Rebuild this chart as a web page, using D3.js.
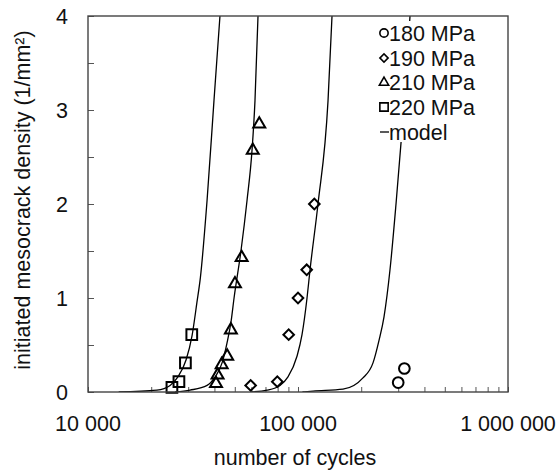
<!DOCTYPE html>
<html>
<head>
<meta charset="utf-8">
<script src="https://cdn.jsdelivr.net/npm/d3@7"></script>
<style>
body { margin: 0; background: #fff; }
text { font-family: "Liberation Sans", Arial, sans-serif; fill: #111; }
</style>
</head>
<body>
<svg id="chart" width="558" height="473"></svg>
<script>
// measured points, [cycles, density 1/mm2]
let pts180 = [[300000, 0.1], [321000, 0.25]]
let pts190 = [[59500, 0.07], [79700, 0.11], [90300, 0.61], [100000, 1.0], [110000, 1.3], [119600, 2.0]]
let pts210 = [[40700, 0.09], [41400, 0.18], [43300, 0.29], [46000, 0.38], [47900, 0.66], [50100, 1.15], [53900, 1.43], [60900, 2.57], [65400, 2.85]]
let pts220 = [[25100, 0.05], [27100, 0.11], [29100, 0.31], [31200, 0.61]]

// model curves
let model220 = [[14000, 0], [21300, 0.02], [24600, 0.07], [26800, 0.16], [29300, 0.34], [31300, 0.6], [33000, 0.95], [34300, 1.22], [36900, 2.04], [39800, 3.1], [42500, 4.0]]
let model210 = [[26000, 0], [30600, 0.02], [36900, 0.07], [40300, 0.16], [43500, 0.31], [45900, 0.52], [48000, 0.75], [49600, 1.0], [53500, 1.5], [57200, 2.04], [60400, 2.57], [62400, 3.1], [64500, 4.0]]
let model190 = [[59100, 0], [71200, 0.02], [82100, 0.07], [89600, 0.16], [98900, 0.38], [104500, 0.61], [110400, 1.0], [114100, 1.3], [124500, 2.0], [139000, 3.1], [145200, 4.0]]
let model180 = [[105000, 0], [118000, 0.01], [163800, 0.03], [203900, 0.15], [227600, 0.31], [243100, 0.55], [256800, 0.8], [274200, 1.3], [292900, 2.0], [309400, 2.65], [323200, 3.2], [341500, 4.0]]

let xTickVals = [10000, 100000, 1000000]
let xTickLabels = ["10 000", "100 000", "1 000 000"]
let yTickVals = [0, 1, 2, 3, 4]
let legendLabels = ["180 MPa", "190 MPa", "210 MPa", "220 MPa", "model"]

let fs = 21.5
let svg = d3.select("#chart")
let x = d3.scaleLog().domain([1e4, 1e6]).range([88, 508])
let y = d3.scaleLinear().domain([0, 4]).range([392, 16])

svg.append("rect").attr("width", 558).attr("height", 473).attr("fill", "#fff")

// ticks inside the frame
svg.append("g").attr("transform", "translate(0,392)")
    .call(d3.axisBottom(x).tickValues(x.ticks()).tickSize(-5).tickFormat(""))
svg.append("g").attr("transform", "translate(88,0)")
    .call(d3.axisLeft(y).ticks(8).tickSize(-6).tickFormat(""))
svg.selectAll(".domain").remove()
svg.selectAll(".tick line").attr("stroke", "#555").attr("stroke-width", 1)

// tick labels
svg.selectAll(".xlab").data(xTickVals).enter().append("text")
    .attr("class", "xlab")
    .attr("x", d => x(d))
    .attr("y", 431)
    .attr("text-anchor", "middle")
    .attr("font-size", fs)
    .text((d, i) => xTickLabels[i])
svg.selectAll(".ylab").data(yTickVals).enter().append("text")
    .attr("class", "ylab")
    .attr("x", 68)
    .attr("y", d => y(d) + 7.8)
    .attr("text-anchor", "end")
    .attr("font-size", fs)
    .text(d => d)

// axis titles
svg.append("text")
    .attr("x", 295).attr("y", 465)
    .attr("text-anchor", "middle")
    .attr("font-size", fs)
    .text("number of cycles")
svg.append("text")
    .attr("transform", "translate(30,200) rotate(-90)")
    .attr("text-anchor", "middle")
    .attr("font-size", fs)
    .text("initiated mesocrack density (1/mm²)")

// model lines
let line = d3.line().x(d => x(d[0])).y(d => y(d[1])).curve(d3.curveMonotoneX)
svg.append("clipPath").attr("id", "plotclip").append("rect")
    .attr("x", 88).attr("y", 16).attr("width", 420).attr("height", 376)
svg.selectAll(".model").data([model220, model210, model190, model180]).enter().append("path")
    .attr("class", "model")
    .attr("clip-path", "url(#plotclip)")
    .attr("d", line)
    .attr("fill", "none")
    .attr("stroke", "#000")
    .attr("stroke-width", 1.3)

// symbols
let shapes = {
    c180: { type: d3.symbolCircle, size: 90, rot: 0 },
    d190: { type: d3.symbolSquare, size: 56, rot: 45 },
    t210: { type: d3.symbolTriangle, size: 62, rot: 0 },
    s220: { type: d3.symbolSquare, size: 115, rot: 0 }
}
let series = [
    { key: "c180", pts: pts180 },
    { key: "d190", pts: pts190 },
    { key: "t210", pts: pts210 },
    { key: "s220", pts: pts220 }
]
series.forEach(s => {
    let sh = shapes[s.key]
    svg.selectAll("." + s.key).data(s.pts).enter().append("path")
        .attr("class", s.key)
        .attr("d", d3.symbol().type(sh.type).size(sh.size))
        .attr("transform", d => `translate(${x(d[0])},${y(d[1])}) rotate(${sh.rot})`)
        .attr("fill", "none")
        .attr("stroke", "#000")
        .attr("stroke-width", 2)
})

// legend, white box hides the curve behind it
let lg = svg.append("g")
lg.append("rect").attr("x", 378).attr("y", 21).attr("width", 112).attr("height", 121).attr("fill", "#fff")
let rowY = [33, 58, 82.5, 107, 132]
series.forEach((s, i) => {
    let sh = shapes[s.key]
    lg.append("path")
        .attr("d", d3.symbol().type(sh.type).size(sh.size * 0.6))
        .attr("transform", `translate(384,${rowY[i]}) rotate(${sh.rot})`)
        .attr("fill", "none")
        .attr("stroke", "#000")
        .attr("stroke-width", 1.6)
})
lg.append("line").attr("x1", 380).attr("x2", 389).attr("y1", rowY[4]).attr("y2", rowY[4])
    .attr("stroke", "#000").attr("stroke-width", 1.3)
lg.selectAll(".lgtext").data(legendLabels).enter().append("text")
    .attr("class", "lgtext")
    .attr("x", 389)
    .attr("y", (d, i) => rowY[i] + 7.8)
    .attr("font-size", fs)
    .text(d => d)

// frame
svg.append("rect").attr("x", 88).attr("y", 16).attr("width", 420).attr("height", 376)
    .attr("fill", "none").attr("stroke", "#444").attr("stroke-width", 1.4)
</script>
</body>
</html>
